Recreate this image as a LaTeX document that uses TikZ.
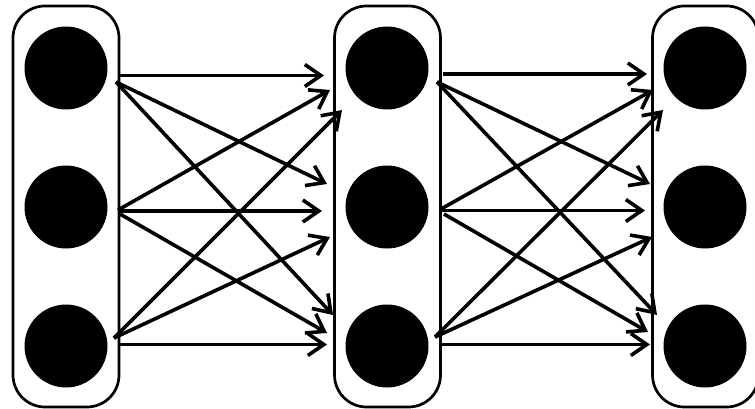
\documentclass[tikz,border=0pt]{standalone}
\usetikzlibrary{arrows.meta}
\begin{document}
\begin{tikzpicture}[x=1pt,y=-1pt,
  layerbox/.style={draw=black,line width=2.7pt,rounded corners=32pt,minimum width=106pt,minimum height=401pt,inner sep=0pt},
  neuron/.style={circle,fill=black,minimum size=83pt,inner sep=0pt},
  link/.style={line width=3.6pt,-{Straight Barb[length=16pt,width=22pt,line width=3.6pt]}}]
\useasboundingbox (0,0) rectangle (755,409);
\clip (0,0) rectangle (755,409);
% boxes
\node[layerbox] (L) at (66,206.5) {};
\node[layerbox] (M) at (387.5,206.5) {};
\node[layerbox] (R) at (705.5,206.5) {};
% neurons
\foreach \n/\y in {1/68,2/207,3/346}{
  \node[neuron] (a\n) at (66,\y) {};
  \node[neuron] (b\n) at (387,\y) {};
  \node[neuron] (c\n) at (705,\y) {};
}
% layer 1 start points
\coordinate (p1h) at (120,75.5);
\coordinate (p1d) at (116,82);
\coordinate (p2h) at (118,211);
\coordinate (p2u) at (118,210);
\coordinate (p2d) at (120,214);
\coordinate (p3d) at (114,338);
\coordinate (p3h) at (120,344.5);
% layer 1 end points
\coordinate (q11) at (324,75.5);
\coordinate (q21) at (330,90);
\coordinate (q31) at (342,110);
\coordinate (q12) at (327,184);
\coordinate (q22) at (322,211);
\coordinate (q32) at (330,237);
\coordinate (q13) at (333,315);
\coordinate (q23) at (327,333);
\coordinate (q33) at (327,344.5);
% layer 2 start points
\coordinate (r1h) at (443,74);
\coordinate (r1d) at (437,82);
\coordinate (r2h) at (442,210.5);
\coordinate (r2u) at (441,209);
\coordinate (r2d) at (444,214);
\coordinate (r3d) at (435,337);
\coordinate (r3h) at (440,344.5);
% layer 2 end points
\coordinate (s11) at (647,74);
\coordinate (s21) at (653,90);
\coordinate (s31) at (663,110);
\coordinate (s12) at (650,184);
\coordinate (s22) at (645,210.5);
\coordinate (s32) at (652,237);
\coordinate (s13) at (657,315);
\coordinate (s23) at (648,332);
\coordinate (s33) at (650,344.5);
% layer 1 arrows
\draw[link] (p1h) -- (q11);
\draw[link] (p1d) -- (q12);
\draw[link] (p1d) -- (q13);
\draw[link] (p2u) -- (q21);
\draw[link] (p2h) -- (q22);
\draw[link] (p2d) -- (q23);
\draw[link] (p3d) -- (q31);
\draw[link] (p3d) -- (q32);
\draw[link] (p3h) -- (q33);
% layer 2 arrows
\draw[link] (r1h) -- (s11);
\draw[link] (r1d) -- (s12);
\draw[link] (r1d) -- (s13);
\draw[link] (r2u) -- (s21);
\draw[link] (r2h) -- (s22);
\draw[link] (r2d) -- (s23);
\draw[link] (r3d) -- (s31);
\draw[link] (r3d) -- (s32);
\draw[link] (r3h) -- (s33);
\end{tikzpicture}
\end{document}
